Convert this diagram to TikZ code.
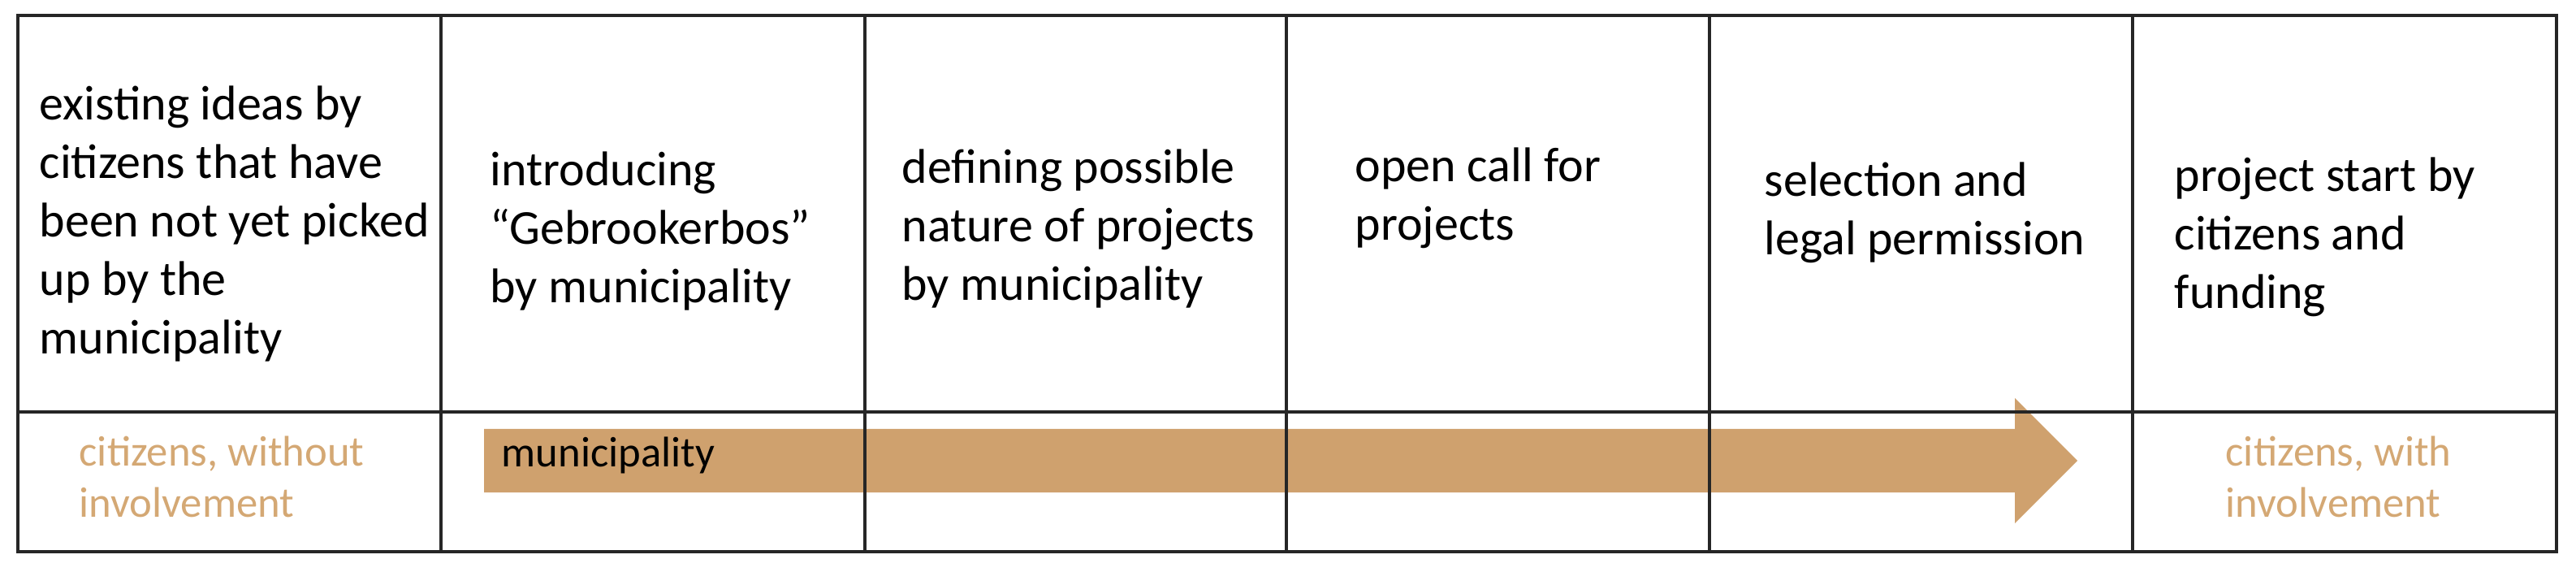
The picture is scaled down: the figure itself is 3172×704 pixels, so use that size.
\documentclass[tikz,border=0pt]{standalone}
\usepackage{fontspec}
\setmainfont{Carlito}
\definecolor{tanfill}{HTML}{CFA16E}
\definecolor{tantext}{HTML}{D4A874}
\begin{document}
\begin{tikzpicture}[x=0.3pt,y=-0.3pt,
  toptext/.style={anchor=base west, align=left, inner sep=0pt, font=\fontsize{18}{21.6}\selectfont},
  bottext/.style={anchor=base west, align=left, inner sep=0pt, font=\fontsize{15.8}{18.9}\selectfont},
  gridline/.style={line width=1.1pt, black!85},
  outline/.style={line width=1.2pt, black!85}]
\useasboundingbox (0,0) rectangle (3172,704);
% arrow
\fill[tanfill] (596,528) -- (2481,528) -- (2481,490) -- (2558,567) -- (2481,644) -- (2481,606) -- (596,606) -- cycle;
% grid
\draw[outline] (22,19) rectangle (3148,679);
\draw[outline] (22,507) -- (3148,507);
\foreach \x in {543,1065,1584,2105,2626} \draw[gridline] (\x,19) -- (\x,679);
% top texts (anchored at the baseline of the last line)
\node[toptext] (c1) at (48,436) {existing ideas by\\citizens that have\\been not yet picked\\up by the\\municipality};
\node[toptext] (c2) at (603,373) {introducing\\“Gebrookerbos”\\by municipality};
\node[toptext] (c3) at (1110,370) {defining possible\\nature of projects\\by municipality};
\node[toptext] (c4) at (1668,296) {open call for\\projects};
\node[toptext] (c5) at (2172,314) {selection and\\legal permission};
\node[toptext] (c6) at (2677,380) {project start by\\citizens and\\funding};
% bottom texts
\node[bottext, text=tantext] (b1) at (97,636) {citizens, without\\involvement};
\node[bottext] (m) at (617,575) {municipality};
\node[bottext, text=tantext] (b6) at (2740,636) {citizens, with\\involvement};
\end{tikzpicture}
\end{document}
